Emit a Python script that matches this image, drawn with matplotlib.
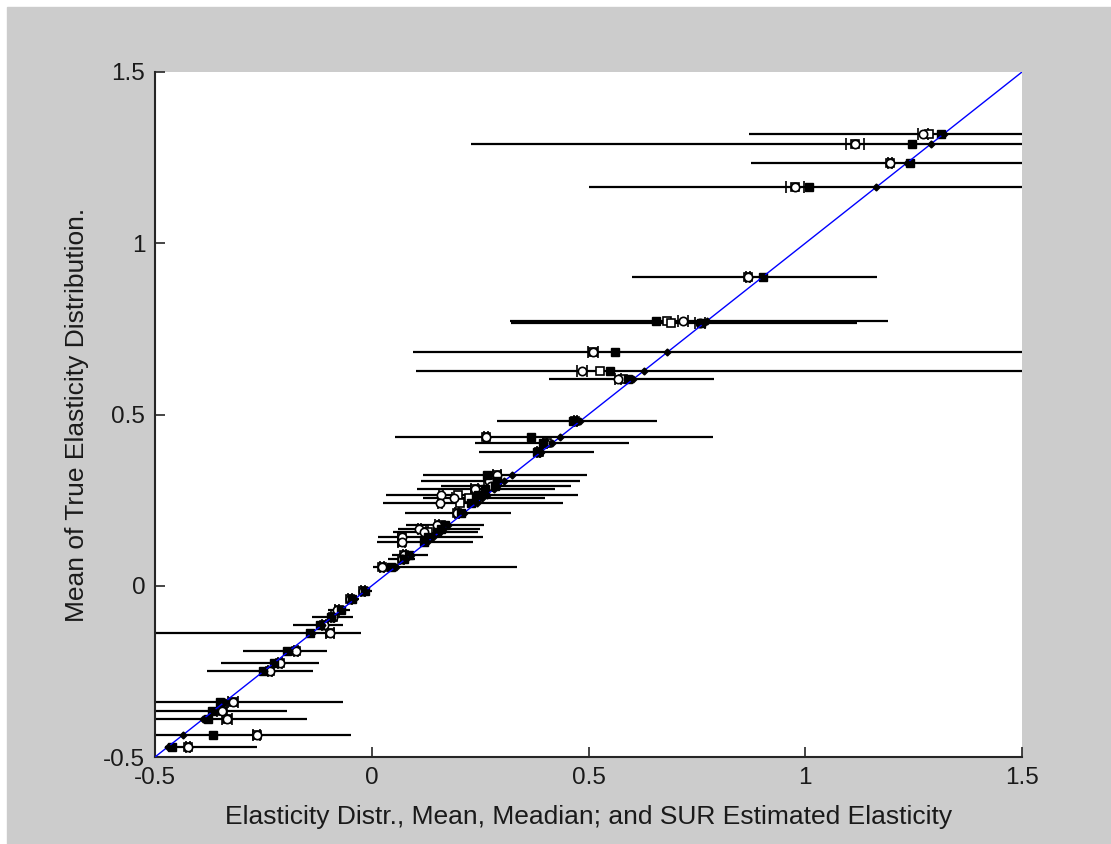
import numpy as np
import matplotlib
matplotlib.use("Agg")
import matplotlib.pyplot as plt
from matplotlib.patches import Rectangle

# True elasticity (mean of true distribution), one per row
true_mean = [1.319, 1.289, 1.235, 1.163, 0.902, 0.773, 0.767, 0.682, 0.627, 0.603,
             0.481, 0.435, 0.416, 0.391, 0.323, 0.306, 0.290, 0.282, 0.265, 0.255,
             0.242, 0.212, 0.177, 0.165, 0.157, 0.142, 0.128, 0.090, 0.078, 0.055,
             -0.015, -0.040, -0.070, -0.091, -0.115, -0.138, -0.190, -0.225, -0.248,
             -0.339, -0.366, -0.389, -0.436, -0.471]
# range of the estimated elasticity distribution
distr_lo = [0.870, 0.229, 0.875, 0.501, 0.600, 0.319, 0.322, 0.095, 0.102, 0.409,
            0.289, 0.054, 0.238, 0.247, 0.118, 0.114, 0.160, 0.105, 0.033, 0.118,
            0.026, 0.077, 0.080, 0.060, 0.049, 0.014, 0.012, 0.047, 0.038, 0.003,
            -0.030, -0.060, -0.100, -0.138, -0.182, -0.550, -0.297, -0.348, -0.380,
            -0.550, -0.550, -0.550, -0.550, -0.477]
distr_hi = [1.600, 1.600, 1.600, 1.600, 1.165, 1.190, 1.120, 1.600, 1.600, 0.790,
            0.658, 0.787, 0.593, 0.513, 0.497, 0.480, 0.460, 0.423, 0.476, 0.400,
            0.441, 0.321, 0.260, 0.250, 0.245, 0.257, 0.234, 0.130, 0.100, 0.335,
            0.000, -0.030, -0.050, -0.043, -0.066, -0.025, -0.103, -0.122, -0.135,
            -0.066, -0.196, -0.149, -0.048, -0.265]
distr_mean = [1.272, 1.115, 1.196, 0.976, 0.868, 0.718, 0.757, 0.510, 0.485, 0.568,
              0.470, 0.264, 0.400, 0.385, 0.289, 0.270, 0.275, 0.238, 0.160, 0.190,
              0.157, 0.197, 0.150, 0.110, 0.120, 0.069, 0.069, 0.075, 0.070, 0.024,
              -0.020, -0.050, -0.080, -0.090, -0.110, -0.096, -0.175, -0.212, -0.235,
              -0.320, -0.345, -0.334, -0.265, -0.424]
mean_ci = [0.012, 0.020, 0.004, 0.020, 0.004, 0.012, 0.012, 0.012, 0.012, 0.008,
           0.004, 0.004, 0.004, 0.004, 0.010, 0.010, 0.004, 0.008, 0.004, 0.004,
           0.004, 0.004, 0.004, 0.004, 0.004, 0.008, 0.008, 0.004, 0.004, 0.004,
           0.004, 0.004, 0.004, 0.004, 0.004, 0.010, 0.004, 0.004, 0.004,
           0.012, 0.012, 0.012, 0.008, 0.004]
distr_median = [1.285, 1.115, 1.196, 0.976, 0.868, 0.681, 0.690, 0.510, 0.527, 0.580,
                0.470, 0.264, 0.405, 0.385, 0.289, 0.280, 0.275, 0.238, 0.200, 0.225,
                0.204, 0.197, 0.160, 0.140, 0.130, 0.069, 0.069, 0.075, 0.070, 0.024,
                -0.020, -0.050, -0.075, -0.090, -0.110, -0.096, -0.175, -0.212, -0.235,
                -0.320, -0.345, -0.334, -0.265, -0.424]
sur_est = [1.313, 1.246, 1.242, 1.009, 0.903, 0.656, 0.760, 0.561, 0.550, 0.591,
           0.464, 0.367, 0.395, 0.381, 0.266, 0.290, 0.285, 0.262, 0.245, 0.240,
           0.230, 0.205, 0.170, 0.160, 0.150, 0.130, 0.120, 0.085, 0.075, 0.045,
           -0.015, -0.045, -0.070, -0.095, -0.120, -0.142, -0.196, -0.225, -0.250,
           -0.350, -0.368, -0.377, -0.366, -0.461]

W, H = 1111, 844
fig = plt.figure(figsize=(W / 100, H / 100), dpi=100, facecolor="white")
fig.patches.append(Rectangle((7 / W, 0), 1, 1 - 7 / H, transform=fig.transFigure,
                             color="#cccccc", zorder=-10))
ax = fig.add_axes([155 / W, 1 - 757 / H, (1022 - 155) / W, (757 - 72) / H])
ax.set_facecolor("white")

y = np.array(true_mean)
ax.hlines(y, distr_lo, distr_hi, colors="black", linewidth=1.6, zorder=2)
ax.errorbar(distr_mean, y, xerr=mean_ci, fmt="o", mfc="white", mec="black",
            ecolor="black", ms=6, mew=1.2, capsize=4, elinewidth=1.2, zorder=3)
ax.plot(distr_median, y, "s", mfc="white", mec="black", ms=5.5, mew=1.2, zorder=3)
ax.plot(sur_est, y, "s", color="black", ms=5.5, zorder=4)
ax.plot([-0.5, 1.5], [-0.5, 1.5], color="blue", linewidth=1, zorder=5)
ax.plot(y, y, "D", color="black", ms=3.5, zorder=6)

ax.set_xlim(-0.5, 1.5)
ax.set_ylim(-0.5, 1.5)
ax.set_xticks([-0.5, 0, 0.5, 1, 1.5])
ax.set_xticklabels(["-0.5", "0", "0.5", "1", "1.5"])
ax.set_yticks([-0.5, 0, 0.5, 1, 1.5])
ax.set_yticklabels(["-0.5", "0", "0.5", "1", "1.5"])
ax.spines["top"].set_visible(False)
ax.spines["right"].set_visible(False)
for s in ("left", "bottom"):
    ax.spines[s].set_linewidth(1.5)
    ax.spines[s].set_color("#262626")
ax.tick_params(direction="in", length=7, width=1.2, labelsize=17.5,
               colors="#262626", labelcolor="#1a1a1a", pad=7)
for lbl in ax.get_xticklabels() + ax.get_yticklabels():
    lbl.set_family("Liberation Sans")

ax.set_xlabel("Elasticity Distr., Mean, Meadian; and SUR Estimated Elasticity",
              fontsize=19, family="Liberation Sans", color="#1a1a1a", labelpad=12)
ax.set_ylabel("Mean of True Elasticity Distribution.", fontsize=19,
              family="Liberation Sans", color="#1a1a1a", labelpad=10)

fig.savefig("out.png", dpi=100, facecolor=fig.get_facecolor())
